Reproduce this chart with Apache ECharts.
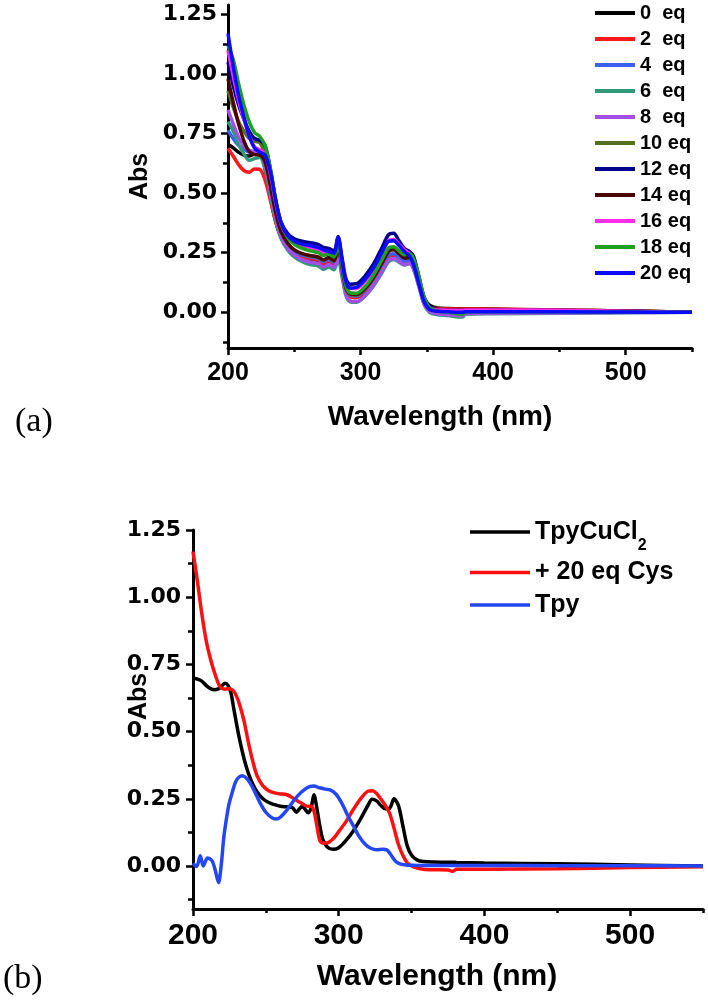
<!DOCTYPE html>
<html>
<head>
<meta charset="utf-8">
<title>UV-vis titration</title>
<script src="https://cdn.jsdelivr.net/npm/echarts@6/dist/echarts.min.js"></script>
<style>
  html, body { margin: 0; padding: 0; background: #fff; }
  #main { width: 708px; height: 1003px; }
</style>
</head>
<body>
<div id="main"></div>
<script>
// ---- panel (a): titration with Cys, 0..20 eq ----
const wlA = [200, 204, 208, 212, 216, 220, 224, 228, 232, 236,
  240, 245, 250, 256, 262, 268, 272, 276, 280, 283,
  286, 289, 292, 297, 303, 310, 316, 321, 325, 329,
  333, 337, 340, 344, 348, 352, 358, 366, 377, 379,
  400, 450, 500, 550];

const eq0 = [0.705, 0.690, 0.672, 0.660, 0.656, 0.665, 0.672, 0.600, 0.480, 0.380,
  0.315, 0.270, 0.245, 0.230, 0.222, 0.218, 0.200, 0.215, 0.198, 0.255,
  0.180, 0.095, 0.068, 0.062, 0.085, 0.130, 0.185, 0.235, 0.242, 0.225,
  0.212, 0.245, 0.225, 0.140, 0.060, 0.030, 0.018, 0.016, 0.015, 0.015,
  0.013, 0.009, 0.005, 0.000];
const eq2 = [0.688, 0.655, 0.620, 0.595, 0.588, 0.602, 0.600, 0.555, 0.470, 0.380,
  0.318, 0.272, 0.248, 0.232, 0.225, 0.220, 0.205, 0.215, 0.202, 0.250,
  0.175, 0.092, 0.065, 0.062, 0.088, 0.135, 0.190, 0.232, 0.238, 0.222,
  0.205, 0.215, 0.190, 0.120, 0.050, 0.022, 0.016, 0.015, 0.014, 0.015,
  0.014, 0.010, 0.005, 0.000];
const eq4 = [0.765, 0.728, 0.700, 0.685, 0.672, 0.668, 0.665, 0.610, 0.500, 0.395,
  0.325, 0.278, 0.255, 0.240, 0.232, 0.226, 0.212, 0.222, 0.208, 0.262,
  0.185, 0.100, 0.072, 0.068, 0.092, 0.140, 0.195, 0.240, 0.246, 0.230,
  0.212, 0.220, 0.195, 0.122, 0.048, 0.018, 0.010, 0.008, 0.006, 0.008,
  0.008, 0.006, 0.003, 0.000];
const eq6 = [0.800, 0.760, 0.705, 0.665, 0.638, 0.645, 0.650, 0.600, 0.490, 0.385,
  0.310, 0.262, 0.232, 0.212, 0.200, 0.195, 0.180, 0.190, 0.178, 0.225,
  0.150, 0.070, 0.045, 0.042, 0.065, 0.112, 0.165, 0.212, 0.222, 0.210,
  0.198, 0.205, 0.180, 0.108, 0.032, 0.000, -0.010, -0.014, -0.020, -0.008,
  -0.006, -0.004, -0.002, 0.000];
const eq8 = [0.850, 0.790, 0.735, 0.700, 0.680, 0.675, 0.672, 0.620, 0.505, 0.395,
  0.318, 0.268, 0.240, 0.220, 0.210, 0.204, 0.190, 0.200, 0.188, 0.238,
  0.160, 0.075, 0.048, 0.045, 0.068, 0.115, 0.170, 0.218, 0.226, 0.214,
  0.200, 0.205, 0.182, 0.110, 0.035, 0.004, -0.006, -0.010, -0.015, -0.005,
  -0.004, -0.003, -0.001, 0.000];
const eq10 = [0.930, 0.860, 0.800, 0.760, 0.730, 0.718, 0.712, 0.660, 0.540, 0.420,
  0.340, 0.290, 0.262, 0.245, 0.236, 0.230, 0.218, 0.228, 0.215, 0.268,
  0.188, 0.100, 0.075, 0.072, 0.095, 0.145, 0.205, 0.258, 0.265, 0.248,
  0.230, 0.232, 0.205, 0.128, 0.050, 0.018, 0.008, 0.005, 0.003, 0.006,
  0.006, 0.005, 0.003, 0.000];
const eq12 = [1.050, 0.950, 0.870, 0.810, 0.760, 0.730, 0.722, 0.700, 0.600, 0.470,
  0.380, 0.330, 0.308, 0.298, 0.292, 0.285, 0.272, 0.268, 0.258, 0.318,
  0.230, 0.140, 0.118, 0.120, 0.150, 0.205, 0.270, 0.325, 0.332, 0.300,
  0.268, 0.255, 0.235, 0.150, 0.062, 0.025, 0.012, 0.010, 0.008, 0.010,
  0.010, 0.007, 0.004, 0.000];
const eq14 = [0.980, 0.880, 0.790, 0.720, 0.675, 0.662, 0.660, 0.630, 0.530, 0.420,
  0.340, 0.290, 0.262, 0.246, 0.238, 0.232, 0.220, 0.230, 0.216, 0.268,
  0.190, 0.102, 0.078, 0.075, 0.098, 0.148, 0.205, 0.255, 0.262, 0.246,
  0.228, 0.230, 0.202, 0.125, 0.048, 0.018, 0.012, 0.012, 0.011, 0.012,
  0.012, 0.009, 0.005, 0.000];
const eq16 = [1.100, 0.990, 0.890, 0.810, 0.740, 0.695, 0.682, 0.665, 0.580, 0.460,
  0.370, 0.318, 0.292, 0.280, 0.272, 0.262, 0.250, 0.248, 0.240, 0.288,
  0.210, 0.125, 0.100, 0.100, 0.128, 0.180, 0.245, 0.300, 0.305, 0.285,
  0.262, 0.245, 0.215, 0.135, 0.052, 0.018, 0.010, 0.009, 0.008, 0.010,
  0.010, 0.008, 0.004, 0.000];
const eq18 = [1.120, 1.060, 0.960, 0.870, 0.800, 0.755, 0.738, 0.700, 0.600, 0.470,
  0.375, 0.315, 0.285, 0.268, 0.258, 0.250, 0.238, 0.245, 0.232, 0.282,
  0.200, 0.110, 0.082, 0.080, 0.105, 0.158, 0.220, 0.270, 0.275, 0.258,
  0.242, 0.245, 0.225, 0.150, 0.062, 0.020, 0.005, 0.000, -0.008, 0.002,
  0.002, 0.002, 0.001, 0.000];
const eq20 = [1.170, 1.030, 0.910, 0.820, 0.740, 0.690, 0.672, 0.660, 0.590, 0.470,
  0.375, 0.322, 0.298, 0.286, 0.280, 0.272, 0.262, 0.255, 0.248, 0.315,
  0.218, 0.128, 0.102, 0.105, 0.135, 0.188, 0.250, 0.298, 0.300, 0.280,
  0.255, 0.235, 0.200, 0.120, 0.045, 0.012, 0.004, 0.002, 0.000, 0.002,
  0.002, 0.002, 0.001, 0.000];

const namesA = ['0  eq', '2  eq', '4  eq', '6  eq', '8  eq', '10 eq',
  '12 eq', '14 eq', '16 eq', '18 eq', '20 eq'];
const valuesA = [eq0, eq2, eq4, eq6, eq8, eq10, eq12, eq14, eq16, eq18, eq20];
const colorsA = ['#000000', '#ff1a1a', '#3d5ff0', '#2f9a78', '#a24fe8', '#55701f',
  '#00008a', '#4a0606', '#ff2cf0', '#1fa01f', '#0a0aff'];

// ---- panel (b): complex, complex + Cys, free ligand ----
const wlB = [200, 203, 206, 209, 212, 215, 218, 220, 222, 224,
  226, 228, 230, 232, 235, 238, 241, 244, 248, 252,
  256, 260, 264, 268, 271, 273, 275, 277, 279, 281,
  283, 285, 287, 289, 292, 296, 300, 305, 310, 315,
  320, 323, 326, 329, 332, 335, 338, 341, 344, 347,
  350, 354, 358, 365, 375, 378, 381, 400, 450, 500,
  550];
const tpyCuCl2 = [0.700, 0.695, 0.688, 0.672, 0.660, 0.656, 0.660, 0.672, 0.680, 0.672,
  0.645, 0.585, 0.525, 0.470, 0.400, 0.345, 0.305, 0.275, 0.250, 0.236,
  0.228, 0.222, 0.220, 0.218, 0.200, 0.212, 0.222, 0.210, 0.198, 0.215,
  0.265, 0.215, 0.150, 0.100, 0.072, 0.062, 0.068, 0.095, 0.130, 0.175,
  0.225, 0.248, 0.242, 0.225, 0.213, 0.215, 0.250, 0.225, 0.150, 0.075,
  0.040, 0.022, 0.017, 0.015, 0.014, 0.014, 0.013, 0.011, 0.008, 0.004,
  0.000];
const plusCys = [1.170, 1.060, 0.940, 0.840, 0.770, 0.715, 0.672, 0.660, 0.658, 0.660,
  0.658, 0.650, 0.630, 0.600, 0.540, 0.460, 0.390, 0.335, 0.298, 0.280,
  0.272, 0.268, 0.266, 0.255, 0.245, 0.238, 0.232, 0.225, 0.222, 0.222,
  0.205, 0.150, 0.095, 0.086, 0.086, 0.100, 0.128, 0.165, 0.210, 0.250,
  0.278, 0.280, 0.270, 0.248, 0.225, 0.195, 0.140, 0.080, 0.040, 0.012,
  0.000, -0.008, -0.012, -0.014, -0.015, -0.020, -0.012, -0.012, -0.010, -0.006,
  -0.003];

const wlTpy = [200, 202.5, 205, 207, 210, 213, 215, 217.5, 219.5, 221,
  222.5, 224.5, 227, 229, 231, 233.5, 236, 239, 242, 246,
  250, 254, 257, 260, 264, 268, 272, 276, 280, 283,
  286, 290, 294, 298, 302, 306, 310, 314, 318, 322,
  326, 330, 333, 336, 339, 342, 346, 350, 360, 400,
  450, 500, 550];
const tpy = [0.010, -0.002, 0.038, 0.000, 0.030, 0.020, -0.010, -0.062, 0.010, 0.100,
  0.160, 0.225, 0.275, 0.310, 0.328, 0.336, 0.330, 0.310, 0.280, 0.235,
  0.200, 0.180, 0.175, 0.182, 0.205, 0.235, 0.262, 0.282, 0.295, 0.298,
  0.292, 0.287, 0.283, 0.268, 0.235, 0.190, 0.150, 0.110, 0.082, 0.066,
  0.060, 0.062, 0.060, 0.040, 0.018, 0.008, 0.004, 0.003, 0.002, 0.002,
  0.001, 0.001, 0.000];

// tick positions
const xMajor = [200, 300, 400, 500];
const xMinor = [250, 350, 450, 550];
const yMajor = [0, 0.25, 0.5, 0.75, 1.0, 1.25];
const yMinor = [-0.125, 0.125, 0.375, 0.625, 0.875, 1.125];

const pair = (xs, ys) => xs.map((x, i) => [x, ys[i]]);

const FONT = 'Liberation Sans';
const AXIS_LINE = { show: true, onZero: false, lineStyle: { color: '#000', width: 3 } };
const NO_LINE = { show: false, onZero: false };

// x axis: one with labels and long ticks, one only with short ticks
function xAxes(grid, labelSize, labelMargin, nameSize, nameGap, namePad) {
  return [
    {
      type: 'value', gridIndex: grid, position: 'bottom', min: 200, max: 550,
      axisLine: AXIS_LINE,
      axisTick: { show: true, customValues: xMajor, length: 7, lineStyle: { color: '#000', width: 2.5 } },
      axisLabel: {
        customValues: xMajor, margin: labelMargin, color: '#000',
        fontFamily: FONT, fontWeight: 'bold', fontSize: labelSize
      },
      splitLine: { show: false },
      name: 'Wavelength (nm)', nameLocation: 'middle', nameGap: nameGap, nameMoveOverlap: false,
      nameTextStyle: {
        fontFamily: FONT, fontWeight: 'bold', fontSize: nameSize, lineHeight: nameSize,
        color: '#000', padding: [0, namePad, 0, 0]
      }
    },
    {
      type: 'value', gridIndex: grid, position: 'bottom', offset: 0, min: 200, max: 550,
      axisLine: NO_LINE,
      axisTick: { show: true, customValues: xMinor, length: 4, lineStyle: { color: '#000', width: 2.5 } },
      axisLabel: { show: false },
      splitLine: { show: false }
    }
  ];
}

function yAxes(grid, min, max, labelMargin, nameGap, namePad) {
  return [
    {
      type: 'value', gridIndex: grid, position: 'left', min: min, max: max,
      axisLine: AXIS_LINE,
      axisTick: { show: true, customValues: yMajor, length: 7, lineStyle: { color: '#000', width: 2.5 } },
      axisLabel: {
        customValues: yMajor, margin: labelMargin, color: '#000',
        fontFamily: 'DejaVu Sans', fontWeight: 'bold', fontSize: 22,
        formatter: v => v.toFixed(2)
      },
      splitLine: { show: false },
      name: 'Abs', nameLocation: 'middle', nameGap: nameGap, nameMoveOverlap: false,
      nameTextStyle: {
        fontFamily: FONT, fontWeight: 'bold', fontSize: 25, lineHeight: 25,
        color: '#000', padding: [0, 0, 0, namePad]
      }
    },
    {
      type: 'value', gridIndex: grid, position: 'left', offset: 0, min: min, max: max,
      axisLine: NO_LINE,
      axisTick: { show: true, customValues: yMinor, length: 5, lineStyle: { color: '#000', width: 2.5 } },
      axisLabel: { show: false },
      splitLine: { show: false }
    }
  ];
}

const seriesA = valuesA.map((vals, i) => ({
  name: namesA[i],
  type: 'line',
  xAxisIndex: 0,
  yAxisIndex: 0,
  data: pair(wlA, vals),
  color: colorsA[i],
  showSymbol: false,
  smooth: 0.3,
  lineStyle: { width: 3.5 }
}));

const seriesB = [
  { name: 'TpyCuCl2', data: pair(wlB, tpyCuCl2), color: '#000000' },
  { name: '+ 20 eq Cys', data: pair(wlB, plusCys), color: '#ff1010' },
  { name: 'Tpy', data: pair(wlTpy, tpy), color: '#2447f5' }
].map(s => Object.assign(s, {
  type: 'line', xAxisIndex: 2, yAxisIndex: 2,
  showSymbol: false, smooth: 0.3, lineStyle: { width: 3.5 }
}));

const legendText = size => ({
  fontFamily: FONT, fontWeight: 'bold', fontSize: size, lineHeight: size, color: '#000'
});

const myChart = echarts.init(document.getElementById('main'));
const option = {
  animation: false,
  backgroundColor: '#fff',
  grid: [
    { left: 228, top: 5, width: 464, height: 343, outerBoundsMode: 'none' },
    { left: 193, top: 530, width: 510, height: 379, outerBoundsMode: 'none' }
  ],
  xAxis: [].concat(xAxes(0, 25, 13, 28, 55, 40), xAxes(1, 30, 12, 30, 53, 22)),
  yAxis: [].concat(yAxes(0, -0.15, 1.29, 11, 75, 0), yAxes(1, -0.16, 1.25, 12, 41, 46)),
  legend: [
    {
      data: namesA, orient: 'vertical', left: 595, top: 3, padding: 0,
      itemGap: 6, itemWidth: 40, itemHeight: 4, icon: 'rect',
      selectedMode: false, textStyle: legendText(20)
    },
    {
      data: ['TpyCuCl2'], left: 470, top: 510, padding: 0,
      itemWidth: 60, itemHeight: 3.5, icon: 'rect', selectedMode: false,
      formatter: () => '{n|TpyCuCl}{s|2}',
      textStyle: {
        rich: {
          n: legendText(25),
          s: { fontFamily: FONT, fontWeight: 'bold', fontSize: 16, lineHeight: 16, color: '#000', padding: [28, 0, 0, 0] }
        }
      }
    },
    {
      data: ['+ 20 eq Cys'], left: 470, top: 560, padding: 0,
      itemWidth: 60, itemHeight: 3.5, icon: 'rect', selectedMode: false,
      textStyle: legendText(25)
    },
    {
      data: ['Tpy'], left: 470, top: 592.5, padding: 0,
      itemWidth: 60, itemHeight: 3.5, icon: 'rect', selectedMode: false,
      textStyle: legendText(25)
    }
  ],
  graphic: [
    { type: 'text', x: 15, y: 422, style: { text: '(a)', fontFamily: 'Liberation Serif', fontSize: 34, fill: '#000', verticalAlign: 'middle' } },
    { type: 'text', x: 3, y: 979, style: { text: '(b)', fontFamily: 'Liberation Serif', fontSize: 34, fill: '#000', verticalAlign: 'middle' } }
  ],
  series: seriesA.concat(seriesB)
};
myChart.setOption(option);
</script>
</body>
</html>
